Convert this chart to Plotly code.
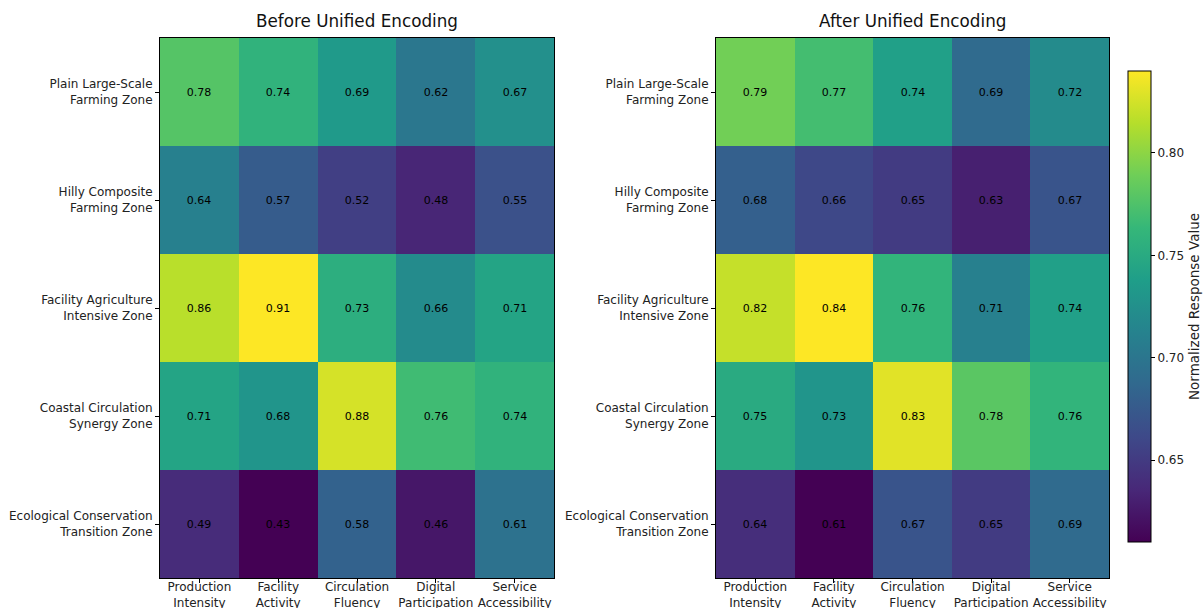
import plotly.graph_objects as go
from plotly.colors import sequential

zones = [
    "Plain Large-Scale<br>Farming Zone",
    "Hilly Composite<br>Farming Zone",
    "Facility Agriculture<br>Intensive Zone",
    "Coastal Circulation<br>Synergy Zone",
    "Ecological Conservation<br>Transition Zone",
]
dimensions = [
    "Production<br>Intensity",
    "Facility<br>Activity",
    "Circulation<br>Fluency",
    "Digital<br>Participation",
    "Service<br>Accessibility",
]
before_values = [
    [0.78, 0.74, 0.69, 0.62, 0.67],
    [0.64, 0.57, 0.52, 0.48, 0.55],
    [0.86, 0.91, 0.73, 0.66, 0.71],
    [0.71, 0.68, 0.88, 0.76, 0.74],
    [0.49, 0.43, 0.58, 0.46, 0.61],
]
after_values = [
    [0.79, 0.77, 0.74, 0.69, 0.72],
    [0.68, 0.66, 0.65, 0.63, 0.67],
    [0.82, 0.84, 0.76, 0.71, 0.74],
    [0.75, 0.73, 0.83, 0.78, 0.76],
    [0.64, 0.61, 0.67, 0.65, 0.69],
]
panel_titles = ["Before Unified Encoding", "After Unified Encoding"]
colorbar_title = "Normalized Response Value"
colorbar_ticks = [0.65, 0.70, 0.75, 0.80]

FONT = "DejaVu Sans"
W, H = 1204, 608
TICK_SIZE = 12


def vmin_vmax(values):
    flat = [v for row in values for v in row]
    return min(flat), max(flat)


fig = go.Figure()

b_lo, b_hi = vmin_vmax(before_values)
a_lo, a_hi = vmin_vmax(after_values)

fig.add_trace(go.Heatmap(
    z=before_values, x=dimensions, y=zones,
    colorscale=sequential.Viridis, zmin=b_lo, zmax=b_hi,
    showscale=False, xaxis="x", yaxis="y",
    texttemplate="%{z:.2f}",
    textfont=dict(family=FONT, size=11, color="black"),
))
fig.add_trace(go.Heatmap(
    z=after_values, x=dimensions, y=zones,
    colorscale=sequential.Viridis, zmin=a_lo, zmax=a_hi,
    xaxis="x2", yaxis="y2",
    texttemplate="%{z:.2f}",
    textfont=dict(family=FONT, size=11, color="black"),
    colorbar=dict(
        x=1128 / W, xanchor="left", xpad=0, ypad=0,
        y=(H - (71 + 542) / 2) / H, yanchor="middle",
        len=471 / H, lenmode="fraction", thickness=23,
        outlinecolor="black", outlinewidth=1,
        tickvals=colorbar_ticks, ticktext=[f"{t:.2f}" for t in colorbar_ticks],
        ticks="outside", ticklen=4, tickcolor="black",
        tickfont=dict(family=FONT, size=TICK_SIZE, color="#222"),
        title=dict(text=colorbar_title, side="right",
                   font=dict(family=FONT, size=13.5, color="#222")),
    ),
))

y_dom = [(H - 578) / H, (H - 38) / H]
axis_common = dict(
    showline=True, linecolor="black", linewidth=1, mirror=True,
    ticks="outside", ticklen=4, tickcolor="black",
    tickfont=dict(family=FONT, size=TICK_SIZE, color="#222"),
    showgrid=False, zeroline=False, automargin=False,
)
x_extra = dict(tickangle=0, ticklabelstandoff=-6)
fig.update_layout(
    width=W, height=H,
    margin=dict(l=0, r=0, t=0, b=0),
    paper_bgcolor="white", plot_bgcolor="white",
    xaxis=dict(domain=[160 / W, 554 / W], anchor="y", **x_extra, **axis_common),
    yaxis=dict(domain=y_dom, anchor="x", autorange="reversed", **axis_common),
    xaxis2=dict(domain=[716 / W, 1109 / W], anchor="y2", **x_extra, **axis_common),
    yaxis2=dict(domain=y_dom, anchor="x2", autorange="reversed", **axis_common),
    annotations=[
        dict(text=panel_titles[0], x=(160 + 554) / 2 / W, y=(H - 21) / H,
             xref="paper", yref="paper", showarrow=False,
             xanchor="center", yanchor="middle",
             font=dict(family=FONT, size=16.8, color="#111")),
        dict(text=panel_titles[1], x=(716 + 1109) / 2 / W, y=(H - 21) / H,
             xref="paper", yref="paper", showarrow=False,
             xanchor="center", yanchor="middle",
             font=dict(family=FONT, size=16.8, color="#111")),
    ],
)

fig.write_html("out.html", config={"responsive": False})
